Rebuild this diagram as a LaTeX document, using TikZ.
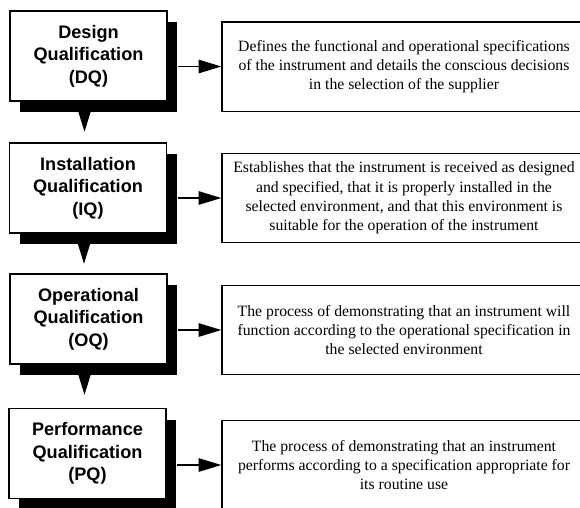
\documentclass[tikz,border=0pt]{standalone}
\usepackage{fontspec}
\setmainfont{Liberation Serif}
\newfontfamily\headfont{Liberation Sans}
\usetikzlibrary{arrows.meta,shadows,calc}
\tikzset{
  phasebox/.style={draw, fill=white, line width=1.1pt, minimum width=117.75pt, minimum height=67.5pt,
    align=center, inner sep=0pt,
    font=\headfont\bfseries\fontsize{13.6pt}{16.8pt}\selectfont,
    drop shadow={fill=black, opacity=1, shadow xshift=7.5pt, shadow yshift=-8.25pt}},
  descbox/.style={draw, line width=1pt, minimum width=273pt, minimum height=67pt,
    align=center, inner sep=0pt, font=\fontsize{11.8pt}{14.4pt}\selectfont},
  linkarrow/.style={line width=1.2pt, -{Triangle[length=17pt,width=10pt]}},
  downtri/.style={fill=black}
}
\begin{document}
\begin{tikzpicture}[x=0.75pt,y=-0.75pt]
\useasboundingbox (0,0) rectangle (580,507);
\clip (0,0) rectangle (580,507);
% phase boxes
\node[phasebox] (dq) at (88.5,56) {Design\\Qualification\\(DQ)};
\node[phasebox] (iq) at (88,188) {Installation\\Qualification\\(IQ)};
\node[phasebox] (oq) at (88.5,319) {Operational\\Qualification\\(OQ)};
\node[phasebox] (pq) at (87.5,453.5) {Performance\\Qualification\\(PQ)};
% description boxes
\node[descbox] (dqd) at (404,66.5) {Defines the functional and operational specifications\\of the instrument and details the conscious decisions\\in the selection of the supplier};
\node[descbox] (iqd) at (404,198) {Establishes that the instrument is received as designed\\and specified, that it is properly installed in the\\selected environment, and that this environment is\\suitable for the operation of the instrument};
\node[descbox] (oqd) at (404,330) {The process of demonstrating that an instrument will\\function according to the operational specification in\\the selected environment};
\node[descbox] (pqd) at (404,465) {The process of demonstrating that an instrument\\performs according to a specification appropriate for\\its routine use};
% shadow edges
\foreach \n in {dq,iq,oq,pq}{
  \coordinate (\n r) at ($(\n.east)+(10.5,0)$);
  \coordinate (\n b) at ($(\n.south)+(0,9)$);
}
% arrows to descriptions
\draw[linkarrow] (dqr |- dqd.west) -- (dqd.west);
\draw[linkarrow] (iqr |- iqd.west) -- (iqd.west);
\draw[linkarrow] (oqr |- oqd.west) -- (oqd.west);
\draw[linkarrow] (pqr |- pqd.west) -- (pqd.west);
% down triangles
\foreach \n in {dq,iq,oq}{
  \fill[downtri] ($(\n b)+(-10.5,0)$) -- ($(\n b)+(2.5,0)$) -- ($(\n b)+(-4,21)$) -- cycle;
}
\end{tikzpicture}
\end{document}
